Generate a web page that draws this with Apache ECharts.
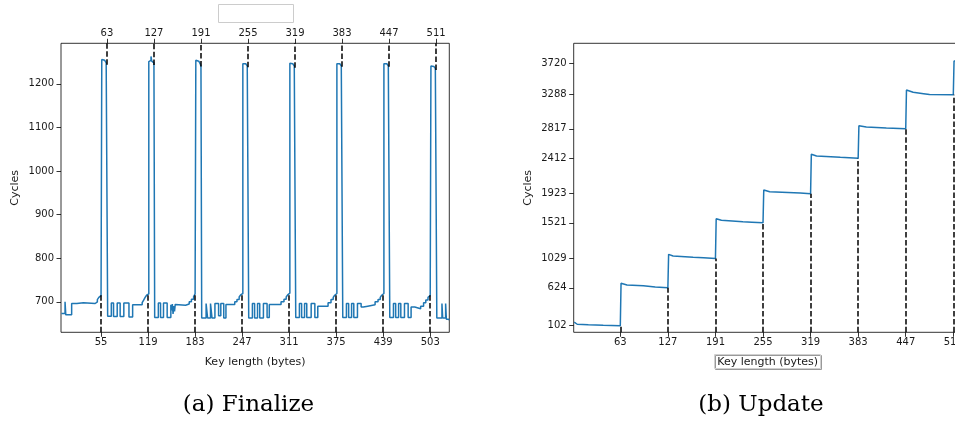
<!DOCTYPE html>
<html>
<head>
<meta charset="utf-8">
<script src="https://cdn.jsdelivr.net/npm/echarts@6/dist/echarts.min.js"></script>
<style>
html,body{margin:0;padding:0;background:#fff;}
#chart{width:955px;height:421px;}
</style>
</head>
<body>
<div id="chart"></div>
<script>
// ---------- (a) Finalize : change points (key length -> cycles), value holds until next point
const finalizeKeys = [
  1, 6, 7, 15, 22, 31, 47, 50, 52, 54, 55,
  56, 58, 60, 62, 63,
  64, 69, 72, 77, 81, 86, 93, 98, 111, 113, 115, 117, 119,
  120, 122, 123, 124, 126, 127,
  128, 133, 136, 140, 145, 150, 151, 152, 153, 154, 155, 156, 158, 170, 175, 178, 181, 183,
  184, 186, 188, 190, 191,
  192, 198, 200, 204, 206, 210, 215, 218, 222, 225, 237, 240, 243, 245, 247,
  248, 250, 252, 254, 255,
  256, 261, 264, 268, 271, 276, 281, 284, 300, 304, 307, 309, 311,
  312, 314, 316, 318, 319,
  320, 325, 328, 332, 335, 341, 346, 350, 364, 368, 371, 373, 375,
  376, 378, 380, 382, 383,
  384, 389, 392, 396, 399, 404, 409, 412, 418, 428, 432, 435, 437, 439,
  440, 442, 444, 446, 447,
  448, 453, 456, 460, 463, 468, 473, 477, 482, 490, 494, 497, 500, 502, 503,
  504, 506, 508, 510, 511,
  512, 519, 520, 524, 525, 528, 529
];
const finalizeCycles = [
  673, 700, 670, 696, 698, 696, 700, 705, 710, 714, 717,
  1256, 1254, 1251, 1248, 1244,
  667, 697, 666, 697, 666, 697, 665, 693, 698, 704, 710, 715, 718,
  1251, 1254, 1263, 1252, 1248, 1243,
  664, 697, 664, 697, 664, 693, 680, 695, 672, 690, 678, 694, 692, 695, 700, 706, 712, 718,
  1254, 1252, 1249, 1246, 1240,
  663, 696, 663, 696, 663, 696, 668, 696, 663, 694, 700, 705, 711, 716, 719,
  1246, 1246, 1244, 1241, 1238,
  663, 696, 663, 696, 663, 696, 664, 694, 700, 706, 711, 716, 720,
  1247, 1246, 1244, 1241, 1237,
  664, 696, 664, 696, 664, 696, 664, 690, 698, 705, 710, 715, 719,
  1246, 1246, 1244, 1241, 1239,
  664, 696, 664, 696, 664, 696, 688, 690, 693, 700, 705, 710, 715, 719,
  1246, 1246, 1244, 1241, 1239,
  664, 696, 664, 696, 664, 696, 664, 688, 684, 690, 698, 704, 710, 714, 718,
  1241, 1240, 1238, 1235, 1232,
  663, 696, 663, 696, 660, 658, 658
];
const finalizeBottomTicks = [55, 119, 183, 247, 311, 375, 439, 503];
const finalizeTopTicks = [63, 127, 191, 255, 319, 383, 447, 511];
const finalizeYTicks = [700, 800, 900, 1000, 1100, 1200];

// ---------- (b) Update : points (key length -> cycles)
const updateKeys = [
  1, 3, 5, 20, 40, 63,
  64, 66, 72, 94, 96, 110, 127,
  128, 130, 134, 161, 175, 191,
  192, 194, 199, 228, 240, 255,
  256, 258, 264, 305, 319,
  320, 322, 327, 359, 383,
  384, 386, 394, 421, 447,
  448, 450, 457, 471, 479, 511,
  512, 514, 530
];
const updateCycles = [
  150, 145, 122, 115, 108, 102,
  687, 672, 662, 653, 640, 634, 624,
  1086, 1070, 1063, 1045, 1040, 1029,
  1577, 1562, 1555, 1536, 1530, 1521,
  1973, 1958, 1950, 1932, 1923,
  2465, 2450, 2442, 2424, 2412,
  2859, 2848, 2841, 2828, 2817,
  3352, 3335, 3320, 3301, 3290, 3288,
  3752, 3745, 3735
];
const updateXTicks = [63, 127, 191, 255, 319, 383, 447, 511];
const updateYTicks = [102, 624, 1029, 1521, 1923, 2412, 2817, 3288, 3720];

// ---------- helpers
function valueAt(keys, vals, x) {
  let v = vals[0];
  for (let i = 0; i < keys.length; i++) { if (keys[i] <= x) v = vals[i]; }
  return v;
}
const FMIN = 630, FMAX = 1293, UMIN = 11, UMAX = 3996;
const finalizeData = finalizeKeys.map((k, i) => [k, finalizeCycles[i]]);
const updateData = updateKeys.map((k, i) => [k, updateCycles[i]]);

const dash = [5.5, 2.4];
const fMarks = [];
finalizeBottomTicks.forEach(x => fMarks.push([{coord: [x, FMIN]}, {coord: [x, valueAt(finalizeKeys, finalizeCycles, x)]}]));
finalizeTopTicks.forEach(x => fMarks.push([{coord: [x, valueAt(finalizeKeys, finalizeCycles, x)]}, {coord: [x, FMAX]}]));
const uMarks = updateXTicks.map(x => [{coord: [x, UMIN]}, {coord: [x, valueAt(updateKeys, updateCycles, x)]}]);

const font = 'DejaVu Sans';
const txt = '#1a1a1a';
const plain = v => String(Math.round(v));
function xAx(grid, min, max, ticks, pos, name) {
  return {
    type: 'value', gridIndex: grid, min: min, max: max, position: pos,
    axisLine: {show: false, onZero: false},
    axisTick: {show: true, customValues: ticks, length: 4.5, lineStyle: {color: '#000', width: 0.8}},
    axisLabel: {customValues: ticks, fontSize: 10, color: txt, fontFamily: font, margin: 5, formatter: plain},
    splitLine: {show: false},
    name: name || '', nameLocation: 'middle', nameGap: 24,
    nameTextStyle: {fontSize: 11, color: txt, fontFamily: font}
  };
}
function yAx(grid, min, max, ticks) {
  return {
    type: 'value', gridIndex: grid, min: min, max: max,
    axisLine: {show: false, onZero: false},
    axisTick: {show: true, customValues: ticks, length: 4.5, lineStyle: {color: '#000', width: 0.8}},
    axisLabel: {customValues: ticks, fontSize: 10, color: txt, fontFamily: font, margin: 7, formatter: plain},
    splitLine: {show: false},
    name: 'Cycles', nameLocation: 'middle', nameGap: 40, nameRotate: 90,
    nameTextStyle: {fontSize: 11, color: txt, fontFamily: font}
  };
}

const chart = echarts.init(document.getElementById('chart'), null, {renderer: 'canvas'});
chart.setOption({
  animation: false,
  backgroundColor: '#fff',
  grid: [
    {left: 61, top: 43.3, width: 388.3, height: 289, show: true, borderColor: '#000', borderWidth: 0.8, backgroundColor: 'transparent', outerBoundsMode: 'none', containLabel: false},
    {left: 573.7, top: 43.3, width: 388, height: 289, show: true, borderColor: '#000', borderWidth: 0.8, backgroundColor: 'transparent', outerBoundsMode: 'none', containLabel: false}
  ],
  xAxis: [
    xAx(0, 0.5, 529, finalizeBottomTicks, 'bottom', 'Key length (bytes)'),
    xAx(0, 0.5, 529, finalizeTopTicks, 'top'),
    xAx(1, 0.3, 522.3, updateXTicks, 'bottom', 'Key length (bytes)')
  ],
  yAxis: [
    yAx(0, FMIN, FMAX, finalizeYTicks),
    yAx(1, UMIN, UMAX, updateYTicks)
  ],
  series: [
    {
      type: 'line', xAxisIndex: 0, yAxisIndex: 0, data: finalizeData, step: 'end',
      showSymbol: false, clip: true,
      lineStyle: {color: '#1f77b4', width: 1.5}, itemStyle: {color: '#1f77b4'},
      markLine: {silent: true, symbol: ['none', 'none'], label: {show: false},
        lineStyle: {color: '#000', width: 1.5, type: dash}, data: fMarks}
    },
    {
      type: 'line', xAxisIndex: 2, yAxisIndex: 1, data: updateData,
      showSymbol: false, clip: true,
      lineStyle: {color: '#1f77b4', width: 1.5}, itemStyle: {color: '#1f77b4'},
      markLine: {silent: true, symbol: ['none', 'none'], label: {show: false},
        lineStyle: {color: '#000', width: 1.5, type: dash}, data: uMarks}
    }
  ],
  graphic: [
    {type: 'rect', shape: {x: 218.5, y: 4.5, width: 75, height: 18}, style: {fill: 'none', stroke: '#cccccc', lineWidth: 1}},
    {type: 'rect', shape: {x: 715.5, y: 355.5, width: 106, height: 14}, style: {fill: 'none', stroke: '#999999', lineWidth: 1}},
    {type: 'rect', shape: {x: 714.5, y: 354.5, width: 106, height: 14}, style: {fill: 'none', stroke: '#d0d0d0', lineWidth: 1}},
    {type: 'text', x: 248.5, y: 405, style: {text: '(a) Finalize', font: '23px "DejaVu Serif"', fill: '#000', textAlign: 'center', textVerticalAlign: 'middle'}},
    {type: 'text', x: 761, y: 405, style: {text: '(b) Update', font: '23px "DejaVu Serif"', fill: '#000', textAlign: 'center', textVerticalAlign: 'middle'}}
  ]
});
</script>
</body>
</html>
